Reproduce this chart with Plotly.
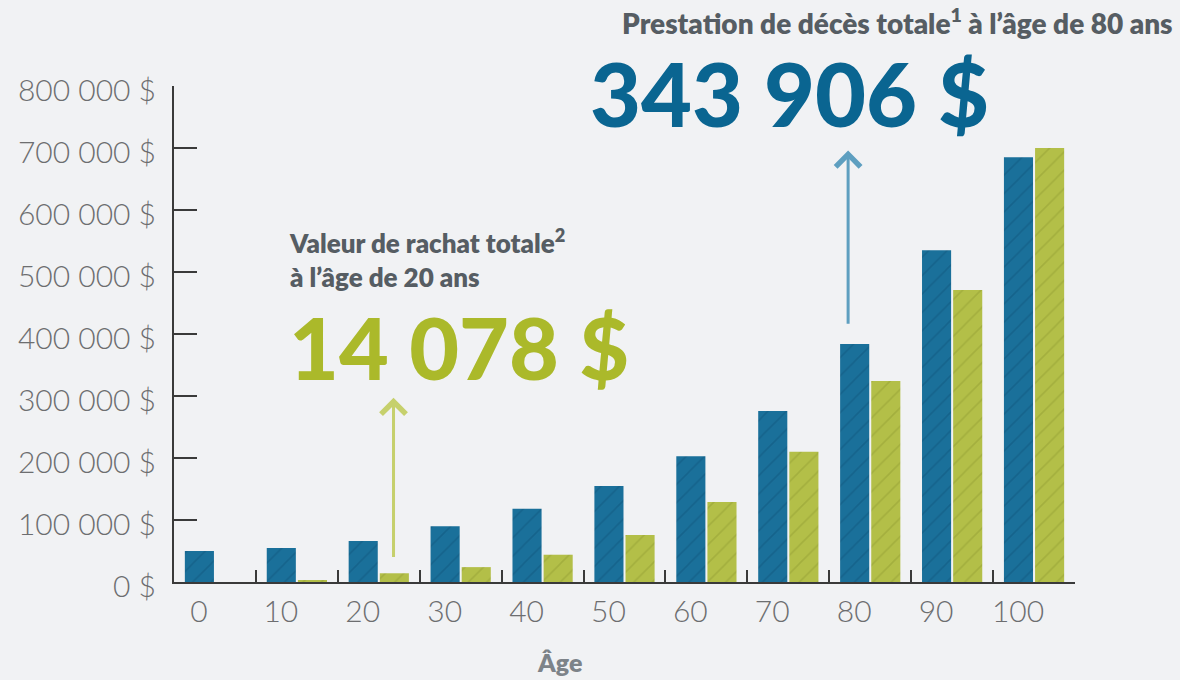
import plotly.graph_objects as go

# ---- data ----
ages = [0, 10, 20, 30, 40, 50, 60, 70, 80, 90, 100]
death_benefit = [50000, 55000, 66000, 90000, 118000, 155000, 203000, 276000, 384000, 535000, 685000]
cash_value = [0, 2000, 14078, 24000, 44000, 76000, 129000, 210000, 324000, 471000, 700000]
y_ticks = [0, 100000, 200000, 300000, 400000, 500000, 600000, 700000, 800000]
y_tick_labels = [f"{v:,}".replace(",", " ") + " $" for v in y_ticks]

BG = "#f1f2f4"
BLUE = "#1a709a"
BLUE_DARK = "#0f5479"
GREEN = "#b3bf48"
GREEN_DARK = "#8f9a30"
AXIS = "#3a3a3a"
TICKFONT = "#6d6e70"
HEAD = "#565d63"

pos = list(range(len(ages)))

fig = go.Figure()
fig.add_trace(go.Bar(
    x=pos, y=death_benefit, name="Prestation de décès totale",
    marker=dict(color=BLUE, line=dict(width=0),
                pattern=dict(shape="/", fgcolor=BLUE_DARK, size=13, solidity=0.12, fgopacity=0.45)),
))
fig.add_trace(go.Bar(
    x=pos, y=cash_value, name="Valeur de rachat totale",
    marker=dict(color=GREEN, line=dict(width=0),
                pattern=dict(shape="/", fgcolor=GREEN_DARK, size=13, solidity=0.12, fgopacity=0.45)),
))

xr = [-0.5, len(ages) - 0.5]
fig.update_layout(
    width=1180, height=680,
    margin=dict(l=174, r=105, t=86, b=98),
    paper_bgcolor=BG, plot_bgcolor=BG,
    barmode="group", bargap=0.24, bargroupgap=0.065,
    showlegend=False,
    font=dict(family="Lato, Noto Sans, sans-serif"),
    xaxis=dict(
        range=xr, tickvals=[p + 0.5 for p in pos], ticktext=[str(a) for a in ages],
        ticks="inside", ticklen=12, tickwidth=2, tickcolor=AXIS,
        ticklabelshift=-57,
        showline=True, linecolor=AXIS, linewidth=2,
        showgrid=False, zeroline=False, fixedrange=True,
        tickfont=dict(size=30, color=TICKFONT, family="Lato", weight=300),
        ticklabelstandoff=2,
    ),
    yaxis=dict(
        range=[0, 800000], tickvals=y_ticks, ticktext=y_tick_labels,
        ticks="inside", ticklen=23, tickwidth=2, tickcolor=AXIS,
        showline=True, linecolor=AXIS, linewidth=2,
        showgrid=False, zeroline=False, fixedrange=True,
        tickfont=dict(size=30, color=TICKFONT, family="Lato", weight=300),
        ticklabelstandoff=10, ticklabelshift=4,
    ),
)

ann = []
# headline top right
ann.append(dict(xref="paper", yref="paper", x=1.111, y=1.131, xanchor="right", yanchor="middle",
                text="Prestation de décès totale<sup>1</sup> à l’âge de 80 ans", showarrow=False,
                font=dict(size=28, color=HEAD, family="Lato", weight=800)))
ann.append(dict(xref="paper", yref="paper", x=0.4595, y=0.986, xanchor="left", yanchor="middle",
                text="343 906 $", showarrow=False,
                font=dict(size=88, color="#0a6591", family="Lato", weight=900)))
# left headline (two lines)
ann.append(dict(xref="paper", yref="paper", x=0.1254, y=0.652, xanchor="left", yanchor="middle",
                align="left",
                text="Valeur de rachat totale<sup>2</sup><br>à l’âge de 20 ans", showarrow=False,
                font=dict(size=26, color=HEAD, family="Lato", weight=800)))
ann.append(dict(xref="paper", yref="paper", x=0.1254, y=0.475, xanchor="left", yanchor="middle",
                text="14 078 $", showarrow=False,
                font=dict(size=86, color="#abb92a", family="Lato", weight=900)))
# x axis title
ann.append(dict(xref="paper", yref="paper", x=0.428, y=-0.162, xanchor="center", yanchor="middle",
                text="Âge", showarrow=False,
                font=dict(size=25, color="#7d8389", family="Lato", weight=800)))
# arrows
ann.append(dict(xref="x", yref="y", axref="x", ayref="y",
                x=2.18, y=297000, ax=2.18, ay=38000, text="", showarrow=True,
                arrowhead=4, arrowsize=1.6, arrowwidth=3, arrowcolor="#c6d06c"))
ann.append(dict(xref="x", yref="y", axref="x", ayref="y",
                x=7.73, y=696000, ax=7.73, ay=414000, text="", showarrow=True,
                arrowhead=4, arrowsize=1.6, arrowwidth=3, arrowcolor="#5e9fc0"))
fig.update_layout(annotations=ann)

fig.write_html("out.html", config={"displayModeBar": False},
               post_script="document.body.style.margin='0px';document.body.style.background='#f1f2f4';")
